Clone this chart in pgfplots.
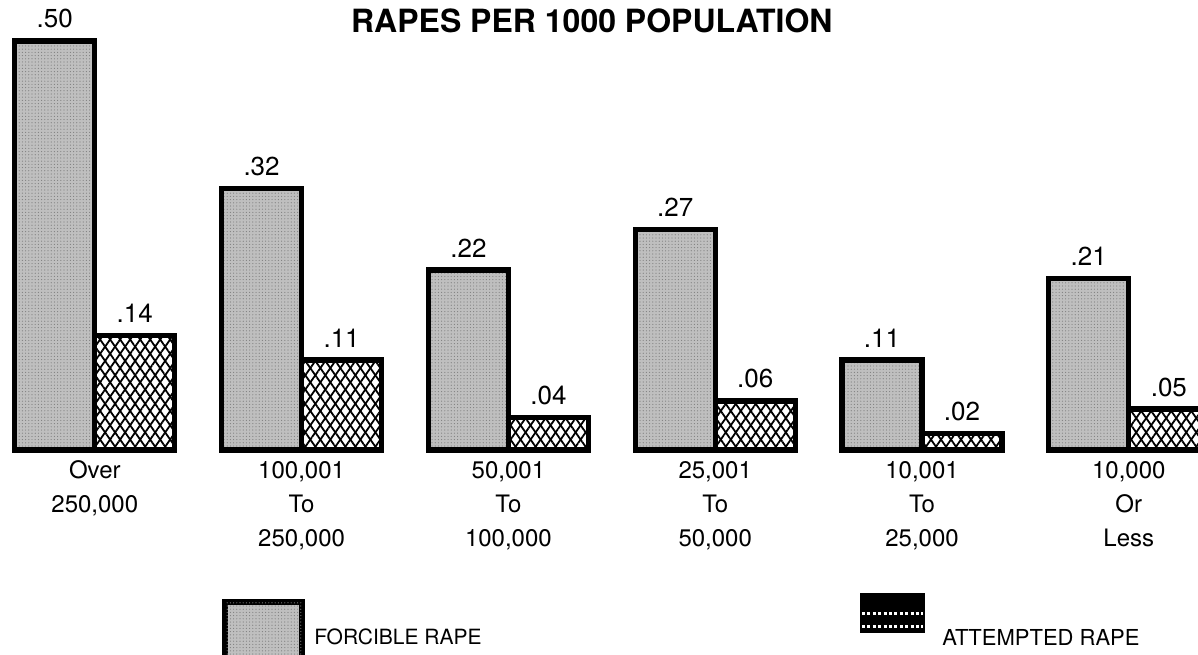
\documentclass[border=0pt]{standalone}
\usepackage{pgfplots}
\pgfplotsset{compat=1.18}
\usepackage{pgfplotstable}
\usepackage{fontspec}
\setmainfont{TeX Gyre Heros}
\usetikzlibrary{patterns,patterns.meta}

\pgfplotstableread{
x y lab
0 0.50 .50
1 0.32 .32
2 0.22 .22
3 0.27 .27
4 0.11 .11
5 0.21 .21
}\forcible
\pgfplotstableread{
x y lab
0 0.14 .14
1 0.11 .11
2 0.04 .04
3 0.06 .06
4 0.02 .02
5 0.05 .05
}\attempted

\begin{document}
\begin{tikzpicture}
\begin{axis}[
  scale only axis,
  width=599pt, height=327pt,
  xmin=-0.4584, xmax=5.3346,
  ymin=-0.2494, ymax=0.5501,
  axis x line=middle,
  axis y line=none,
  axis line style={draw=none},
  ytick=\empty,
  xtick={0,1,2,3,4,5},
  xticklabels={{Over\\250,000},{100,001\\To\\250,000},{50,001\\To\\100,000},{25,001\\To\\50,000},{10,001\\To\\25,000},{10,000\\Or\\Less}},
  xticklabel style={align=center, font=\fontsize{12}{17}\selectfont, yshift=-2pt},
  major tick length=0pt,
  ybar=0pt,
  bar width=0.387,
  nodes near coords,
  point meta=explicit symbolic,
  every node near coord/.append style={font=\fontsize{13}{15}\selectfont, anchor=south, inner sep=0pt, yshift=5pt},
]
\addplot[bar shift=-0.1935, draw=black, line width=2.6pt, fill=black!25,
  postaction={pattern={Dots[distance=1.6pt, radius=0.3pt]}, pattern color=black!50}]
  table[x=x, y=y, meta=lab] {\forcible};
\addplot[bar shift=0.1935, draw=black, line width=2.6pt, fill=white,
  postaction={pattern={Lines[angle=55, distance=4.1pt, line width=0.9pt]}, pattern color=black},
  postaction={pattern={Lines[angle=-55, distance=4.1pt, line width=0.9pt]}, pattern color=black}]
  table[x=x, y=y, meta=lab] {\attempted};
% title
\node[anchor=center, inner sep=0pt, font=\fontsize{16}{18}\selectfont\bfseries] at (axis description cs:0.494,0.968) {RAPES PER 1000 POPULATION};
% legend swatches
\draw[line width=2.6pt, fill=black!25, postaction={pattern={Dots[distance=1.6pt, radius=0.3pt]}, pattern color=black!50}]
  (axis description cs:0.1878,-0.03) rectangle (axis description cs:0.2521,0.0795);
\node[anchor=west, inner sep=0pt, font=\fontsize{10.5}{12}\selectfont] at (axis description cs:0.2620,0.026) {FORCIBLE RAPE};
\fill[black] (axis description cs:0.7179,0.0321) rectangle (axis description cs:0.7721,0.0933);
\draw[white, line width=1.2pt, dash pattern=on 1.5pt off 1.2pt] (axis description cs:0.7195,0.062) -- (axis description cs:0.7705,0.062);
\draw[white, line width=1.2pt, dash pattern=on 1.5pt off 1.2pt] (axis description cs:0.7195,0.042) -- (axis description cs:0.7705,0.042);
\node[anchor=west, inner sep=0pt, font=\fontsize{11}{13}\selectfont] at (axis description cs:0.7863,0.026) {ATTEMPTED RAPE};
\end{axis}
\pgfresetboundingbox
\path[use as bounding box] (0,0) rectangle (599pt,327pt);
\end{tikzpicture}
\end{document}
